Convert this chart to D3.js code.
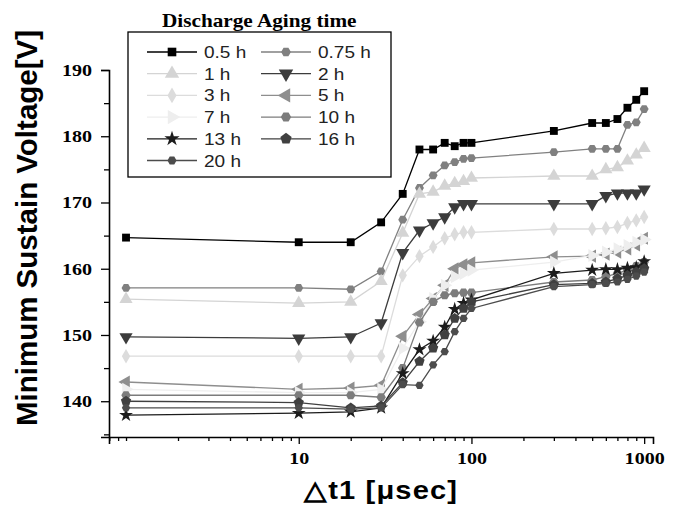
<!DOCTYPE html>
<html>
<head>
<meta charset="utf-8">
<script src="https://cdn.jsdelivr.net/npm/d3@7"></script>
<style>
body { margin: 0; background: #fff; }
</style>
</head>
<body>
<script>
var w = 682
var h = 506

// delta t1 [usec]
var times = [1, 10, 20, 30, 40, 50, 60, 70, 80, 90, 100, 300, 500, 600, 700, 800, 900, 1000]

var labels = ["0.5 h", "0.75 h", "1 h", "2 h", "3 h", "5 h", "7 h", "10 h", "13 h", "16 h", "20 h"]

var v05 = [164.7, 164, 164, 167, 171.3, 178, 178, 179, 178.5, 179, 179, 180.8, 182, 182, 182.6, 184.3, 185.5, 186.8]
var v075 = [157.1, 157.1, 156.9, 159.6, 167.4, 172.2, 174.1, 175.6, 176.1, 176.6, 176.7, 177.6, 178.1, 178.1, 178.1, 181.7, 182.1, 184.1]
var v1 = [155.4, 154.8, 155, 158.1, 165.4, 171.3, 171.6, 172.5, 172.9, 173.2, 173.7, 174, 174, 175, 175.3, 176.3, 177.2, 178.2]
var v2 = [149.7, 149.5, 149.7, 151.8, 162.4, 165.8, 166.9, 167.8, 169.3, 169.8, 169.8, 169.8, 169.8, 171, 171.4, 171.4, 171.4, 172]
var v3 = [146.8, 146.8, 146.8, 146.8, 159, 161.9, 163.3, 164.6, 165.2, 165.5, 165.5, 166, 166, 166.1, 166.3, 166.9, 167.3, 167.8]
var v5 = [142.9, 141.8, 142, 142.4, 149.8, 153.1, 155.5, 157.5, 160, 160.6, 160.9, 161.8, 161.9, 162.2, 162.5, 163, 163.6, 164.6]
var v7 = [141.8, 141.3, 141.3, 141.8, 148, 152, 155.5, 157.5, 158.8, 159.3, 159.8, 161, 162, 162.5, 163, 163.5, 164, 164.4]
var v10 = [140.9, 140.9, 140.9, 140.6, 145, 151.9, 155, 156, 156.3, 156.4, 156.4, 158, 158.3, 158.8, 159.3, 159.8, 160.4, 161]
var v13 = [137.9, 138.2, 138.4, 139, 144.2, 147.8, 149.1, 151.2, 153.9, 154.8, 155.3, 159.3, 159.8, 159.9, 159.9, 160.1, 160.2, 161.1]
var v16 = [140, 139.8, 139, 139.3, 142.8, 146, 148, 150, 152.5, 154, 155, 157.6, 157.8, 158, 158.5, 159, 159.5, 160]
var v20 = [139, 139, 138.8, 139, 142.5, 142.4, 145.5, 147.5, 150.5, 152.5, 154, 157.3, 157.6, 157.8, 158, 158.4, 158.9, 159.5]

var yTicks = [140, 150, 160, 170, 180, 190]
var xTicks = [10, 100, 1000]

// the source picture is stretched sideways, so text gets a horizontal scale
var stretch = 1.18

// custom polygon symbols
function polygon(n, rot) {
    return {
        draw: function (ctx, size) {
            var r = Math.sqrt(size / (n / 2 * Math.sin(2 * Math.PI / n)))
            for (var i = 0; i < n; i++) {
                var a = rot + i * 2 * Math.PI / n
                if (i == 0) ctx.moveTo(r * Math.cos(a), r * Math.sin(a))
                else ctx.lineTo(r * Math.cos(a), r * Math.sin(a))
            }
            ctx.closePath()
        }
    }
}
var hexagon = polygon(6, 0)
var pentagon = polygon(5, -Math.PI / 2)

var series = [
    { values: v05, color: "#000", sym: d3.symbolSquare, size: 62, rot: 0 },
    { values: v075, color: "#808080", sym: hexagon, size: 52, rot: 0 },
    { values: v1, color: "#d4d4d4", sym: d3.symbolTriangle, size: 75, rot: 0 },
    { values: v2, color: "#3c3c3c", sym: d3.symbolTriangle, size: 75, rot: 180 },
    { values: v3, color: "#dcdcdc", sym: d3.symbolDiamond, size: 60, rot: 0 },
    { values: v5, color: "#8e8e8e", sym: d3.symbolTriangle, size: 75, rot: -90 },
    { values: v7, color: "#eeeeee", sym: d3.symbolTriangle, size: 75, rot: 90 },
    { values: v10, color: "#7c7c7c", sym: hexagon, size: 58, rot: 0 },
    { values: v13, color: "#1c1c1c", sym: d3.symbolStar, size: 60, rot: 0 },
    { values: v16, color: "#404040", sym: pentagon, size: 70, rot: 0 },
    { values: v20, color: "#4c4c4c", sym: hexagon, size: 45, rot: 0 }
]

var x = d3.scaleLog()
    .domain([0.797, 1125])
    .range([109, 653])

var y = d3.scaleLinear()
    .domain([134.6, 190])
    .range([437, 70])

var svg = d3.select("body")
    .append("svg")
    .attr("width", w)
    .attr("height", h)

// minor ticks
var xMinor = []
;[0.1, 1, 10, 100].forEach(function (d) {
    for (var k = 1; k < 10; k++) {
        var v = d * k
        if (v >= 0.8 && v <= 1000 && xTicks.indexOf(v) < 0) xMinor.push(v)
    }
})
var yMinor = [135, 145, 155, 165, 175, 185]

var xAxis = svg.append("g")
    .attr("transform", "translate(0,437)")
    .call(d3.axisBottom(x).tickValues(xTicks).tickSize(7).tickPadding(8).tickFormat(d3.format("d")))
xAxis.append("g")
    .call(d3.axisBottom(x).tickValues(xMinor).tickSize(4).tickFormat(""))
    .select(".domain").remove()

var yAxis = svg.append("g")
    .attr("transform", "translate(109,0)")
    .call(d3.axisLeft(y).tickValues(yTicks).tickSize(8).tickPadding(6.4))
yAxis.append("g")
    .call(d3.axisLeft(y).tickValues(yMinor).tickSize(5).tickFormat(""))
    .select(".domain").remove()

svg.selectAll(".domain").attr("stroke", "#000").attr("stroke-width", 1.6)
svg.selectAll(".tick line").attr("stroke", "#000").attr("stroke-width", 1.3)
svg.selectAll(".tick text")
    .style("font-family", "'Liberation Serif', 'Times New Roman', serif")
    .style("font-weight", "bold")
    .style("font-size", "17px")
    .attr("transform", "scale(" + stretch + ",1)")
    .attr("fill", "#000")

// axis titles
svg.append("text")
    .attr("transform", "translate(37,228) rotate(-90)")
    .attr("text-anchor", "middle")
    .style("font-family", "'Liberation Sans', Arial, sans-serif")
    .style("font-weight", "bold")
    .style("font-size", "29.5px")
    .text("Minimum Sustain Voltage[V]")

svg.append("text")
    .attr("transform", "translate(381,499) scale(1.12,1)")
    .attr("text-anchor", "middle")
    .style("font-family", "'Liberation Sans', Arial, sans-serif")
    .style("font-weight", "bold")
    .style("font-size", "26px")
    .style("letter-spacing", "1px")
    .text("\u25B3t1 [\u03BCsec]")

// lines and markers
var line = d3.line()
    .x(function (d, i) { return x(times[i]) })
    .y(function (d) { return y(d) })

var groups = svg.selectAll("g.series")
    .data(series)
    .enter()
    .append("g")
    .attr("class", "series")

groups.append("path")
    .attr("d", function (d) { return line(d.values) })
    .attr("fill", "none")
    .attr("stroke", function (d) { return d.color })
    .attr("stroke-width", 1.3)

groups.each(function (s) {
    d3.select(this).selectAll("path.pt")
        .data(s.values)
        .enter()
        .append("path")
        .attr("class", "pt")
        .attr("d", d3.symbol().type(s.sym).size(s.size))
        .attr("transform", function (d, i) {
            return "translate(" + x(times[i]) + "," + y(d) + ") rotate(" + s.rot + ")"
        })
        .attr("fill", s.color)
})

// legend
var legend = svg.append("g")

legend.append("text")
    .attr("transform", "translate(162,27) scale(" + stretch + ",1)")
    .style("font-family", "'Liberation Serif', 'Times New Roman', serif")
    .style("font-weight", "bold")
    .style("font-size", "18px")
    .text("Discharge Aging time")

legend.append("rect")
    .attr("x", 128)
    .attr("y", 32)
    .attr("width", 263)
    .attr("height", 145)
    .attr("fill", "#fff")
    .attr("stroke", "#000")
    .attr("stroke-width", 1.3)

var items = legend.selectAll("g.item")
    .data(series)
    .enter()
    .append("g")
    .attr("class", "item")
    .attr("transform", function (d, i) {
        var col = i % 2
        var row = Math.floor(i / 2)
        return "translate(" + (col == 0 ? 147 : 261) + "," + (52 + row * 21.7) + ")"
    })

items.append("line")
    .attr("x1", 0)
    .attr("x2", 50)
    .attr("stroke", function (d) { return d.color })
    .attr("stroke-width", 1.3)

items.append("path")
    .attr("d", function (d) { return d3.symbol().type(d.sym).size(d.size * 1.2)() })
    .attr("transform", function (d) { return "translate(25,0) rotate(" + d.rot + ")" })
    .attr("fill", function (d) { return d.color })

items.append("text")
    .attr("transform", "translate(57,6) scale(1.12,1)")
    .style("font-family", "'Liberation Sans', Arial, sans-serif")
    .style("font-size", "17px")
    .attr("fill", "#222")
    .text(function (d, i) { return labels[i] })
</script>
</body>
</html>
